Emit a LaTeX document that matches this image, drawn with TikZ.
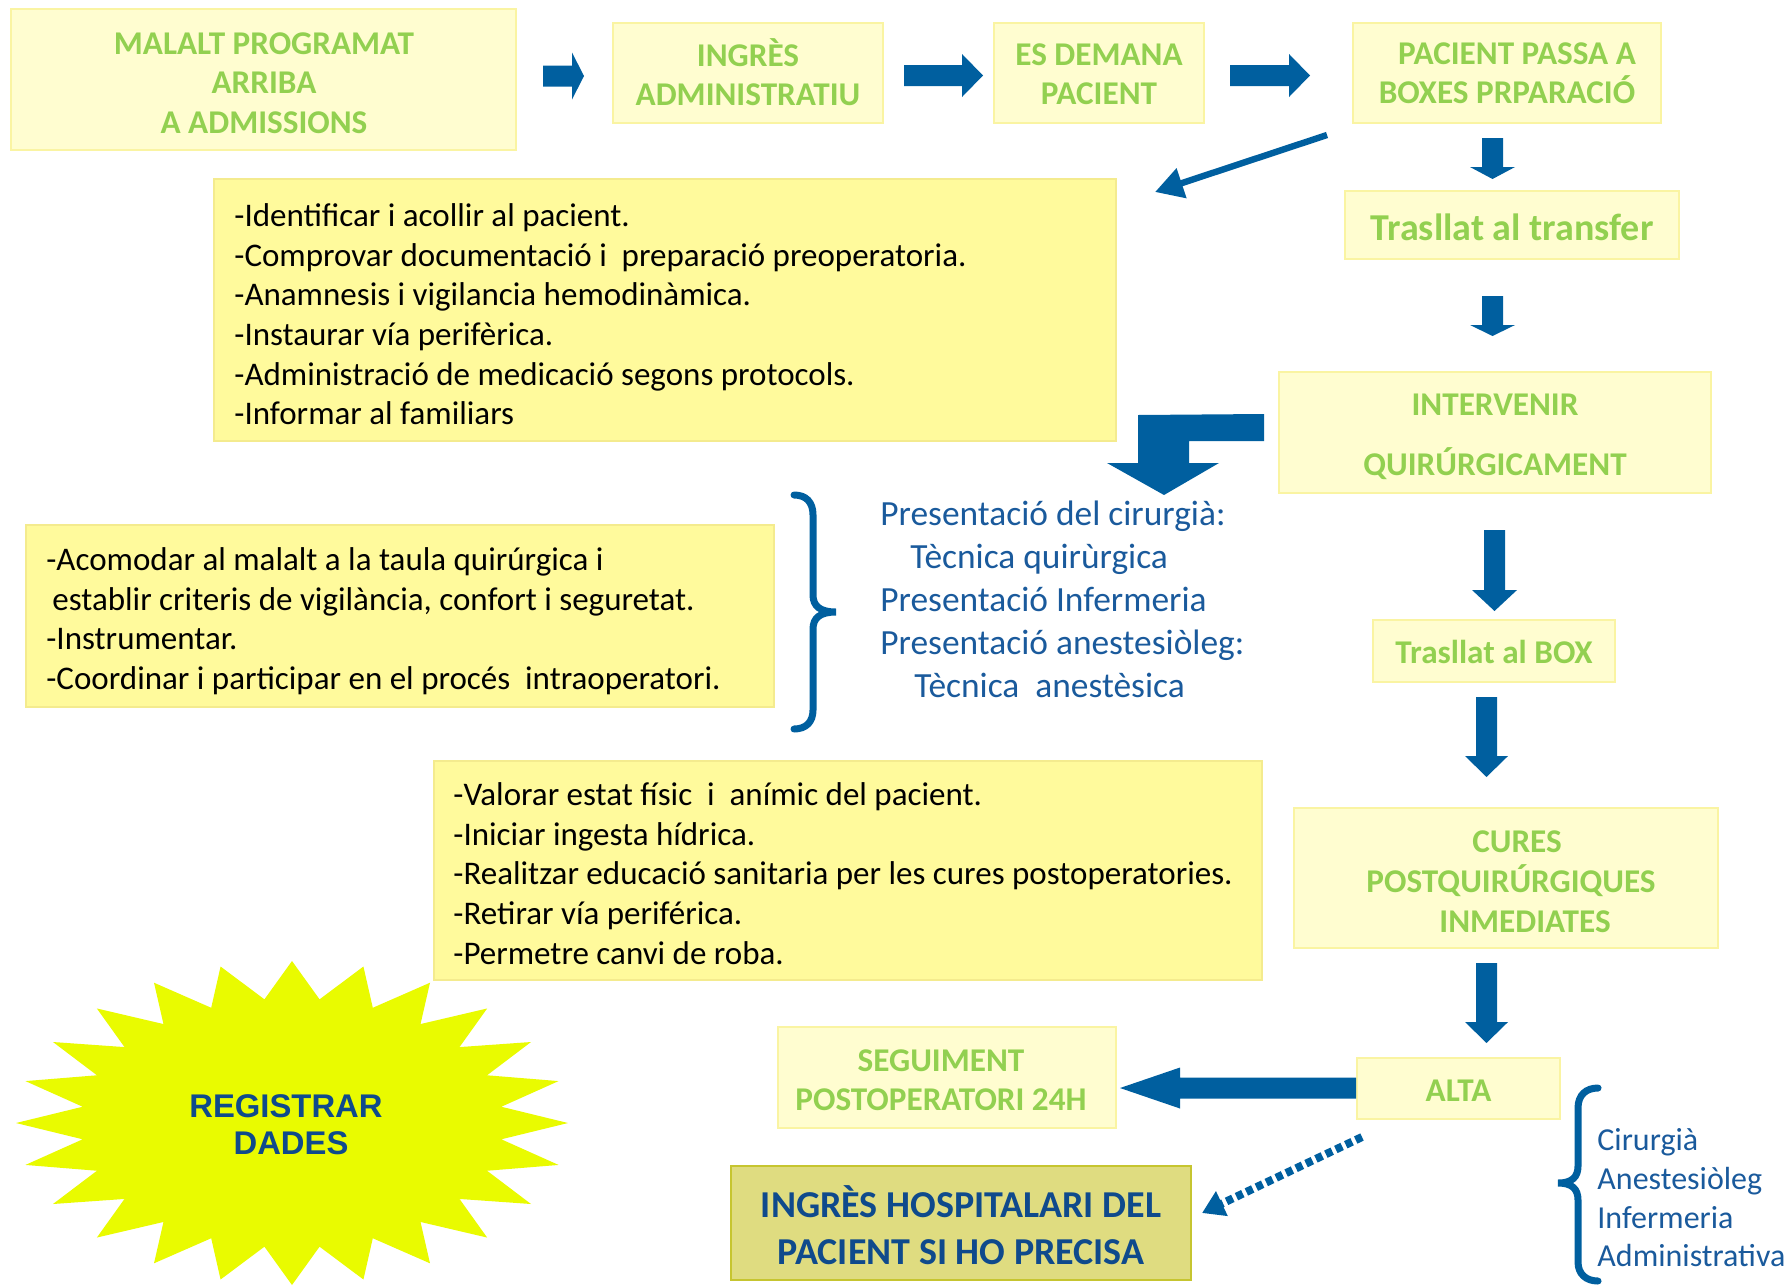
\documentclass[tikz,border=0pt]{standalone}
\usepackage{fontspec}
\setmainfont{Carlito}
\newfontfamily\starfont{Liberation Sans}
\usetikzlibrary{arrows.meta}

\definecolor{flowfill}{HTML}{FFFDD0}
\definecolor{flowline}{HTML}{FAF4A2}
\definecolor{listfill}{HTML}{FFFA9C}
\definecolor{listline}{HTML}{F4EB8E}
\definecolor{flowgreen}{HTML}{92D050}
\definecolor{arrowblue}{HTML}{005F9F}
\definecolor{textblue}{HTML}{1A5A9C}
\definecolor{darkblue}{HTML}{0F4A8C}
\definecolor{starfill}{HTML}{E9FB00}
\definecolor{olivefill}{HTML}{DFDC80}
\definecolor{oliveline}{HTML}{C6C530}

\tikzset{
  flowbox/.style={draw=flowline, line width=1pt, fill=flowfill, inner sep=0pt},
  flowtext/.style={inner sep=0pt, align=center, text=flowgreen,
    font=\bfseries\fontsize{16.6}{19.7}\selectfont},
  listbox/.style={draw=listline, line width=1pt, fill=listfill, inner sep=0pt},
  listtext/.style={anchor=north west, inner sep=0pt, align=left, text=black,
    font=\fontsize{16.5}{19.85}\selectfont},
  bluetext/.style={anchor=north west, inner sep=0pt, align=left, text=textblue},
  blockarrow/.style={fill=arrowblue},
  bracket/.style={draw=arrowblue, line width=3.5pt, line cap=round},
}

\begin{document}
\begin{tikzpicture}[x=0.5pt,y=-0.5pt]
\useasboundingbox (0,0) rectangle (1791,1285);

% ---------- top row of steps ----------
\node[flowbox, minimum width=252.5pt, minimum height=70.5pt] (b1) at (263.5,79.5) {};
\node[flowtext] (b1t) at (264,83) {MALALT PROGRAMAT\\ARRIBA\\A ADMISSIONS};
\node[flowbox, minimum width=135pt, minimum height=50pt] (b2) at (748,73) {};
\node[flowtext] (b2t) at (748,72) {INGRÈS\\ADMINISTRATIU};
\node[flowbox, minimum width=105pt, minimum height=50pt] (b3) at (1099,73) {};
\node[flowtext] (b3t) at (1099,74) {ES DEMANA\\PACIENT};
\node[flowbox, minimum width=154pt, minimum height=50pt] (b4) at (1507,73) {};
\node[flowtext] (b4t) at (1507,73) {\hspace*{10pt}PACIENT PASSA A\\BOXES PRPARACIÓ};

% ---------- right column of steps ----------
\node[flowbox, minimum width=167pt, minimum height=34pt] (b5) at (1512,225) {};
\node[flowtext, font=\bfseries\fontsize{19}{22}\selectfont] (b5t) at (1512,227)
  {Trasllat al transfer};
\node[flowbox, minimum width=216pt, minimum height=60.5pt] (b6) at (1495,432.5) {};
\node[flowtext] (b6t) at (1495,437) {INTERVENIR\\[10.5pt]QUIRÚRGICAMENT};
\node[flowbox, minimum width=121pt, minimum height=31pt] (b7) at (1494,651) {};
\node[flowtext] (b7t) at (1494,652) {Trasllat al BOX};
\node[flowbox, minimum width=212pt, minimum height=70pt] (b8) at (1506,878) {};
\node[flowtext, font=\bfseries\fontsize{16.6}{20}\selectfont] (b8t) at (1506,881.5)
  {\hspace*{11pt}CURES\\\hspace*{5pt}POSTQUIRÚRGIQUES\\\hspace*{19pt}INMEDIATES};
\node[flowbox, minimum width=101.5pt, minimum height=30.5pt] (b9) at (1458.5,1088.5) {};
\node[flowtext] (b9t) at (1458.5,1091) {ALTA};
\node[flowbox, minimum width=169pt, minimum height=50.5pt] (b10) at (947,1077.5) {};
\node[flowtext] (b10t) at (941,1080) {SEGUIMENT\\POSTOPERATORI 24H};
\node[flowbox, draw=oliveline, fill=olivefill,
  minimum width=230pt, minimum height=57pt] (b11) at (961,1223) {};
\node[flowtext, text=darkblue, font=\bfseries\fontsize{19}{23.5}\selectfont] (b11t)
  at (961,1225) {INGRÈS HOSPITALARI DEL\\PACIENT SI HO PRECISA};

% ---------- task lists ----------
\node[listbox, minimum width=451pt, minimum height=131pt] (l1) at (665,310) {};
\node[listtext] (l1t) at (234,203) {-Identificar i acollir al pacient.\\
  -Comprovar documentació i\ \ preparació preoperatoria.\\
  -Anamnesis i vigilancia hemodinàmica.\\
  -Instaurar vía perifèrica.\\
  -Administració de medicació segons protocols.\\
  -Informar al familiars};

\node[listbox, minimum width=374pt, minimum height=91pt] (l2) at (400,616) {};
\node[listtext] (l2t) at (46,547) {-Acomodar al malalt a la taula quirúrgica i\\
  \hspace*{3pt}establir criteris de vigilància, confort i seguretat.\\
  -Instrumentar.\\
  -Coordinar i participar en el procés\ \ intraoperatori.};

\node[listbox, minimum width=414pt, minimum height=109.5pt] (l3) at (848,870.5) {};
\node[listtext] (l3t) at (453,782) {-Valorar estat físic\ \ i\ \ anímic del pacient.\\
  -Iniciar ingesta hídrica.\\
  -Realitzar educació sanitaria per les cures postoperatories.\\
  -Retirar vía periférica.\\
  -Permetre canvi de roba.};

% ---------- staff presentations ----------
\node[bluetext, font=\fontsize{17.7}{21.4}\selectfont] (pres) at (880,501)
  {Presentació del cirurgià:\\
   \hspace*{15pt}Tècnica quirùrgica\\
   Presentació Infermeria\\
   Presentació anestesiòleg:\\
   \hspace*{17pt}Tècnica\ \ anestèsica};
\draw[bracket] (794,495) .. controls (806,495) and (813,502) .. (813,515)
  -- (813,595) .. controls (813,606) and (820,612) .. (836,612)
  .. controls (820,612) and (813,618) .. (813,629)
  -- (813,710) .. controls (813,722) and (806,729) .. (794,729);

\node[bluetext, font=\fontsize{16}{19.4}\selectfont] (staff) at (1597,1128)
  {Cirurgià\\Anestesiòleg\\Infermeria\\Administrativa};
\draw[bracket] (1598,1088) .. controls (1586,1088) and (1578,1095) .. (1578,1108)
  -- (1578,1166) .. controls (1578,1177) and (1572,1183) .. (1558,1183)
  .. controls (1572,1183) and (1578,1189) .. (1578,1200)
  -- (1578,1262) .. controls (1578,1274) and (1586,1281) .. (1598,1281);

% ---------- record-keeping burst ----------
\fill[starfill] plot[samples at={0,7.5,...,352.5}, variable=\a]
  ({292+276*(isodd(int(\a/7.5+0.1))?0.765:1)*cos(\a)},
   {1123-162*(isodd(int(\a/7.5+0.1))?0.77:1)*sin(\a)}) -- cycle;
\node[align=center, text=darkblue, inner sep=0pt,
  font=\starfont\bfseries\fontsize{16.4}{18.5}\selectfont] (reg) at (286,1125)
  {REGISTRAR\\\hspace*{5pt}DADES};

% ---------- block arrows ----------
\coordinate (r1) at (543,76);
\coordinate (r2) at (904,75.5);
\coordinate (r3) at (1230,75.5);
\fill[blockarrow] (r1) ++(0,-10.5) -- ++(29,0) -- ++(0,-13) -- ++(12,23.5)
  -- ++(-12,23.5) -- ++(0,-13) -- ++(-29,0) -- cycle;
\fill[blockarrow] (r2) ++(0,-10.5) -- ++(58,0) -- ++(0,-11) -- ++(21,21.5)
  -- ++(-21,21.5) -- ++(0,-11) -- ++(-58,0) -- cycle;
\fill[blockarrow] (r3) ++(0,-10.5) -- ++(59,0) -- ++(0,-11) -- ++(21,21.5)
  -- ++(-21,21.5) -- ++(0,-11) -- ++(-59,0) -- cycle;

\coordinate (d1) at (1492.5,138);
\coordinate (d2) at (1492.5,296);
\coordinate (d3) at (1494.5,530);
\coordinate (d4) at (1486.5,697);
\coordinate (d5) at (1486.5,963);
\fill[blockarrow] (d1) ++(-10.5,0) -- ++(21,0) -- ++(0,29) -- ++(12,0) -- ++(-22.5,12)
  -- ++(-22.5,-12) -- ++(12,0) -- cycle;
\fill[blockarrow] (d2) ++(-10.5,0) -- ++(21,0) -- ++(0,29) -- ++(12,0) -- ++(-22.5,11)
  -- ++(-22.5,-11) -- ++(12,0) -- cycle;
\fill[blockarrow] (d3) ++(-10.5,0) -- ++(21,0) -- ++(0,60) -- ++(12,0) -- ++(-22.5,21)
  -- ++(-22.5,-21) -- ++(12,0) -- cycle;
\fill[blockarrow] (d4) ++(-10.5,0) -- ++(21,0) -- ++(0,59) -- ++(11,0) -- ++(-21.5,21)
  -- ++(-21.5,-21) -- ++(11,0) -- cycle;
\fill[blockarrow] (d5) ++(-10.5,0) -- ++(21,0) -- ++(0,59) -- ++(11,0) -- ++(-21.5,21)
  -- ++(-21.5,-21) -- ++(11,0) -- cycle;

% from ALTA back to the follow-up box
\fill[blockarrow] (b9.west) ++(0,-11) -- ++(-176,0) -- ++(0,-10) -- ++(-60,20.5)
  -- ++(60,20.5) -- ++(0,-10) -- ++(176,0) -- cycle;

% from the operation box down to the presentations
\fill[blockarrow] (1264,414) -- (1138,415) -- (1138,463) -- (1107,463) -- (1164,495)
  -- (1219,463) -- (1189,463) -- (1189,441) -- (1264,441) -- cycle;

% ---------- thin connectors ----------
\coordinate (p1) at (1327,135);
\coordinate (p2) at (1155,192);
\draw[arrowblue, line width=3.2pt, -{Triangle[length=14pt,width=15pt]}] (p1) -- (p2);

\coordinate (q1) at (1362,1137);
\coordinate (q2) at (1202,1213);
\draw[arrowblue, line width=4pt, dash pattern=on 3.5pt off 2pt,
  -{Triangle[length=11pt,width=13pt]}] (q1) -- (q2);
\end{tikzpicture}
\end{document}
